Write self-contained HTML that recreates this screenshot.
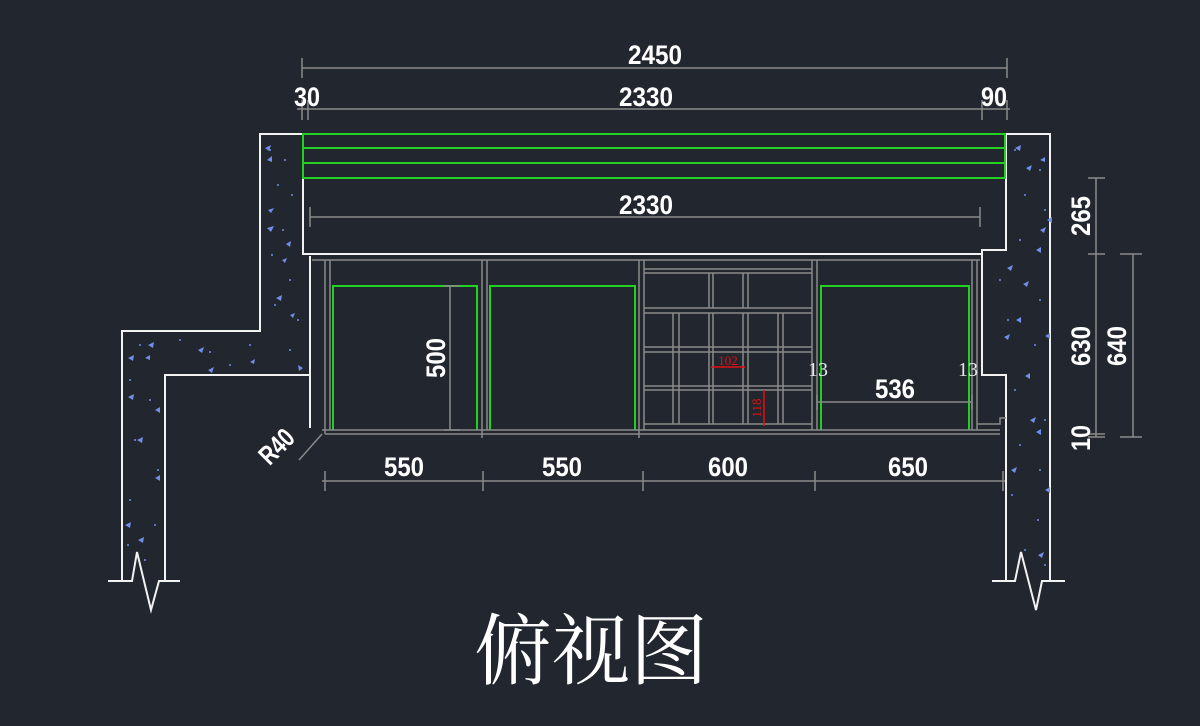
<!DOCTYPE html>
<html><head><meta charset="utf-8"><style>
html,body{margin:0;padding:0;background:#22262f;}
svg{display:block}
.d{font-family:"Liberation Sans",sans-serif;font-weight:bold;font-size:27px;fill:#fff;}
</style></head><body>
<svg width="1200" height="726" viewBox="0 0 1200 726" xmlns="http://www.w3.org/2000/svg">
<rect width="1200" height="726" fill="#22262f"/>
<!-- walls -->
<g fill="none" stroke="#f2f2f2" stroke-width="2">
<polyline points="303,134 260,134 260,331 122,331 122,581"/>
<polyline points="165,581 165,375 310,375"/>
<polyline points="303,134 303,254 982,254"/>
<polyline points="310,256 310,428 Q310,438 322,438 L1005,438"/>
<polyline points="1005,134 1050,134 1050,581"/>
<polyline points="1006,134 1006,250 982,250 982,375 1006,375 1006,581"/>
<polyline points="108,581 132,581 137,552 151,610 159,581 180,581"/>
<polyline points="992,581 1015,581 1021,552 1036,610 1042,581 1065,581"/>
</g>
<!-- hatch -->
<g fill="#6f8fe8">
<circle cx="270" cy="150" r="1"/><circle cx="285" cy="160" r="1"/><circle cx="278" cy="185" r="1"/><circle cx="292" cy="195" r="1"/><circle cx="283" cy="230" r="1"/><circle cx="272" cy="255" r="1"/><circle cx="290" cy="280" r="1"/><circle cx="275" cy="305" r="1"/><circle cx="298" cy="320" r="1"/><circle cx="290" cy="350" r="1"/><circle cx="250" cy="345" r="1"/><circle cx="210" cy="352" r="1"/><circle cx="180" cy="340" r="1"/><circle cx="140" cy="345" r="1"/><circle cx="230" cy="365" r="1"/><circle cx="130" cy="380" r="1"/><circle cx="150" cy="400" r="1"/><circle cx="135" cy="440" r="1"/><circle cx="158" cy="470" r="1"/><circle cx="130" cy="500" r="1"/><circle cx="155" cy="525" r="1"/><circle cx="145" cy="560" r="1"/><circle cx="128" cy="545" r="1"/>
<circle cx="1015" cy="150" r="1"/><circle cx="1040" cy="170" r="1"/><circle cx="1025" cy="195" r="1"/><circle cx="1045" cy="210" r="1"/><circle cx="1020" cy="240" r="1"/><circle cx="1000" cy="280" r="1"/><circle cx="1040" cy="300" r="1"/><circle cx="1008" cy="320" r="1"/><circle cx="1035" cy="345" r="1"/><circle cx="1015" cy="390" r="1"/><circle cx="1045" cy="420" r="1"/><circle cx="1020" cy="445" r="1"/><circle cx="1040" cy="470" r="1"/><circle cx="1012" cy="495" r="1"/><circle cx="1038" cy="520" r="1"/><circle cx="1025" cy="550" r="1"/><circle cx="1045" cy="565" r="1"/>
<path d="M265,148 l6,-3 l-2,6z M267,160 l5,-4 l0,6z M268,210 l6,-2 l-3,5z M267,228 l7,-2 l-3,6z M286,244 l5,-3 l-1,6z M282,260 l5,-2 l-2,5z M276,298 l6,-3 l-1,6z M290,315 l5,-2 l-2,5z M148,345 l6,-3 l-1,6z M128,358 l6,-3 l-1,6z M145,358 l5,-3 l0,5z M198,350 l6,-3 l-2,6z M208,370 l6,-3 l-2,6z M250,362 l5,-3 l-1,5z M303,368 l-5,-3 l1,6z M128,397 l6,-3 l-1,6z M155,410 l5,-3 l0,6z M137,440 l6,-3 l-1,6z M155,478 l5,-3 l0,6z M125,525 l6,-3 l-1,6z M138,540 l6,-3 l-1,6z M1015,148 l6,-3 l-1,6z M1026,168 l6,-3 l-2,6z M1040,160 l5,-3 l0,5z M1047,220 l5,-3 l0,6z M1040,230 l6,-3 l-2,6z M1036,250 l5,-3 l0,6z M1007,268 l6,-3 l-2,6z M1023,284 l6,-3 l-2,6z M1016,320 l5,-3 l0,6z M1004,337 l6,-3 l-2,6z M1045,336 l5,-3 l0,6z M1025,376 l5,-3 l0,6z M1030,420 l6,-3 l-2,6z M1036,432 l5,-3 l0,6z M1011,470 l6,-3 l-2,6z M1045,490 l5,-3 l0,6z M1038,555 l6,-3 l-2,6z"/>
</g>
<!-- countertop green -->
<g stroke="#22d022" stroke-width="2" fill="none">
<rect x="303" y="134" width="702" height="44"/>
<line x1="303" y1="148" x2="1005" y2="148"/><line x1="303" y1="163" x2="1005" y2="163"/>
<polyline points="333,430 333,286 477,286 477,430"/>
<polyline points="490,430 490,286 635,286 635,430"/>
<polyline points="821,430 821,286 969,286 969,430"/>
</g>
<!-- cabinet gray -->
<g stroke="#8a8a8a" stroke-width="1.5" fill="none">
<line x1="312" y1="260" x2="980" y2="260"/>
<line x1="322" y1="430" x2="1000" y2="430"/><line x1="325" y1="434" x2="1000" y2="434"/>
<line x1="325" y1="260" x2="325" y2="434"/><line x1="330" y1="260" x2="330" y2="430"/>
<line x1="482" y1="260" x2="482" y2="438"/><line x1="487" y1="260" x2="487" y2="430"/>
<line x1="639" y1="260" x2="639" y2="438"/><line x1="644" y1="260" x2="644" y2="430"/>
<line x1="812" y1="260" x2="812" y2="430"/><line x1="817" y1="260" x2="817" y2="430"/>
<line x1="972" y1="260" x2="972" y2="430"/><line x1="977" y1="260" x2="977" y2="430"/>
<polyline points="977,424 1000,424 1000,418 1006,418"/>
<line x1="644" y1="269" x2="812" y2="269"/><line x1="644" y1="273" x2="812" y2="273"/>
<line x1="644" y1="308" x2="812" y2="308"/><line x1="644" y1="313" x2="812" y2="313"/>
<line x1="644" y1="347" x2="812" y2="347"/><line x1="644" y1="352" x2="812" y2="352"/>
<line x1="644" y1="386" x2="812" y2="386"/><line x1="644" y1="390" x2="812" y2="390"/>
<line x1="644" y1="424" x2="812" y2="424"/>
<line x1="709" y1="273" x2="709" y2="308"/><line x1="713" y1="273" x2="713" y2="308"/>
<line x1="743" y1="273" x2="743" y2="308"/><line x1="748" y1="273" x2="748" y2="308"/>
<path d="M673,313V424M679,313V424M709,313V424M713,313V424M743,313V424M748,313V424M778,313V424M783,313V424"/>
<!-- dims -->
<line x1="302" y1="68" x2="1007" y2="68"/><line x1="302" y1="58" x2="302" y2="78"/><line x1="1007" y1="58" x2="1007" y2="78"/>
<line x1="297" y1="109" x2="1010" y2="109"/>
<path d="M302,100V120M308,100V120M982,100V120M1007,100V120"/>
<line x1="310" y1="217" x2="980" y2="217"/><path d="M310,207V227M980,207V227"/>
<line x1="450" y1="286" x2="450" y2="430"/><path d="M444,286H460M444,430H460"/>
<line x1="817" y1="402" x2="972" y2="402"/><path d="M817,395V410M972,395V410"/>
<line x1="322" y1="481" x2="1005" y2="481"/>
<path d="M325,471V491M483,471V491M643,471V491M815,471V491M1003,471V491"/>
<line x1="299" y1="460" x2="322" y2="434"/>
<line x1="1096" y1="178" x2="1096" y2="437"/><path d="M1088,178H1105M1088,254H1105M1088,437H1105M1088,434H1105"/>
<line x1="1133" y1="254" x2="1133" y2="437"/><path d="M1120,254H1142M1120,437H1142"/>
</g>
<!-- red -->
<g stroke="#e01010" stroke-width="1.5" fill="none"><line x1="711" y1="367" x2="745" y2="367"/><line x1="764" y1="390" x2="764" y2="426"/></g>
<text x="728" y="365" font-family="Liberation Serif,serif" font-size="13" fill="#e01010" text-anchor="middle">102</text>
<text transform="translate(761,408) rotate(-90)" font-family="Liberation Serif,serif" font-size="13" fill="#e01010" text-anchor="middle">118</text>
<!-- text -->
<g class="d" text-anchor="middle">
<text x="655" y="64" textLength="54" lengthAdjust="spacingAndGlyphs">2450</text>
<text x="307" y="106" textLength="26" lengthAdjust="spacingAndGlyphs">30</text>
<text x="646" y="106" textLength="54" lengthAdjust="spacingAndGlyphs">2330</text>
<text x="994" y="106" textLength="26" lengthAdjust="spacingAndGlyphs">90</text>
<text x="646" y="214" textLength="54" lengthAdjust="spacingAndGlyphs">2330</text>
<text x="895" y="398" textLength="40" lengthAdjust="spacingAndGlyphs">536</text>
<text x="404" y="476" textLength="40" lengthAdjust="spacingAndGlyphs">550</text>
<text x="562" y="476" textLength="40" lengthAdjust="spacingAndGlyphs">550</text>
<text x="728" y="476" textLength="40" lengthAdjust="spacingAndGlyphs">600</text>
<text x="908" y="476" textLength="40" lengthAdjust="spacingAndGlyphs">650</text>
<text transform="translate(445,358) rotate(-90)" textLength="40" lengthAdjust="spacingAndGlyphs">500</text>
<text transform="translate(1090,216) rotate(-90)" textLength="40" lengthAdjust="spacingAndGlyphs">265</text>
<text transform="translate(1090,346) rotate(-90)" textLength="40" lengthAdjust="spacingAndGlyphs">630</text>
<text transform="translate(1126,346) rotate(-90)" textLength="40" lengthAdjust="spacingAndGlyphs">640</text>
<text transform="translate(1090,438) rotate(-90)" textLength="26" lengthAdjust="spacingAndGlyphs">10</text>
<text transform="translate(283,453) rotate(-45)" textLength="38" lengthAdjust="spacingAndGlyphs">R40</text>
</g>
<text x="818" y="376" font-family="Liberation Serif,serif" font-size="20" fill="#e8e8e8" text-anchor="middle">13</text>
<text x="968" y="376" font-family="Liberation Serif,serif" font-size="20" fill="#e8e8e8" text-anchor="middle">13</text>
<text x="591" y="678" font-family="'Noto Serif CJK SC','Liberation Serif',serif" font-size="78" fill="#fff" text-anchor="middle">俯视图</text>
</svg>
</body></html>
